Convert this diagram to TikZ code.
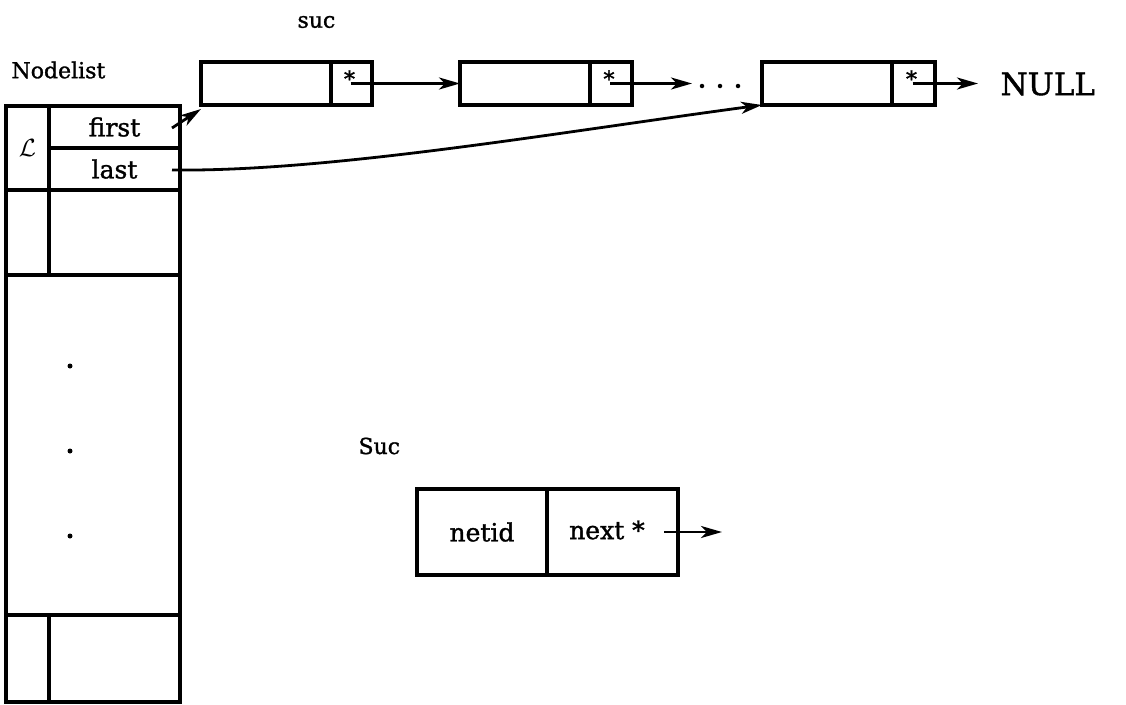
\documentclass[tikz,border=0pt]{standalone}
\usepackage{fontspec}
\setmainfont{DejaVu Serif}[FakeBold=1.3]
\usetikzlibrary{arrows.meta}
\begin{document}
\begin{tikzpicture}[x=1pt,y=-1pt,
  cell/.style={draw,line width=3.2pt,rectangle,inner sep=0pt,outer sep=0pt,anchor=north west},
  lbl/.style={font=\fontsize{25}{29}\selectfont},
  head/.style={font=\fontsize{22}{26}\selectfont},
  ptr/.style={line width=2.8pt,-{Stealth[length=21pt,width=12pt,inset=6pt]}}]
\useasboundingbox (0,0) rectangle (1126,704);

% Nodelist table
\node[head,anchor=west] (title) at (8,70) {Nodelist};
\node[cell,minimum width=43pt,minimum height=84pt,font=\fontsize{27}{30}\selectfont] (Lc) at (6,106) {$\mathcal{L}$};
\node[cell,minimum width=131pt,minimum height=42pt,lbl] (first) at (49,106) {first};
\node[cell,minimum width=131pt,minimum height=42pt,lbl] (last) at (49,148) {last};
\node[cell,minimum width=43pt,minimum height=85pt] (r2a) at (6,190) {};
\node[cell,minimum width=131pt,minimum height=85pt] (r2b) at (49,190) {};
\node[cell,minimum width=174pt,minimum height=340pt] (mid) at (6,275) {};
\node[cell,minimum width=43pt,minimum height=87pt] (r3a) at (6,615) {};
\node[cell,minimum width=131pt,minimum height=87pt] (r3b) at (49,615) {};
\foreach \y/\n in {366/d1,451/d2,536/d3}
  \node[circle,fill,inner sep=0pt,minimum size=5pt] (\n) at (70,\y) {};

% suc chain
\node[head,anchor=west] (suclbl) at (294,22) {suc};
\node[cell,minimum width=130pt,minimum height=43pt] (b1) at (201,62) {};
\node[cell,minimum width=41pt,minimum height=43pt] (b1p) at (331,62) {};
\node[cell,minimum width=130pt,minimum height=43pt] (b2) at (460,62) {};
\node[cell,minimum width=42pt,minimum height=43pt] (b2p) at (590,62) {};
\node[cell,minimum width=130pt,minimum height=43pt] (b3) at (762,62) {};
\node[cell,minimum width=43pt,minimum height=43pt] (b3p) at (892,62) {};
\foreach \b in {b1p,b2p,b3p}{
  \node[font=\fontsize{22}{24}\selectfont,inner sep=0pt] at ([xshift=-2pt,yshift=5pt]\b.center) {*};
  \coordinate (\b s) at ([xshift=-1pt]\b.center);
}
\foreach \x/\n in {702/e1,720/e2,738/e3}
  \node[circle,fill,inner sep=0pt,minimum size=4.5pt] (\n) at (\x,86) {};
\coordinate (d2end) at (692,83.5);
\coordinate (nullend) at (978,83.5);
\node[font=\fontsize{31}{34}\selectfont,anchor=west] (null) at (997,84) {NULL};

\draw[ptr] (b1ps) -- (b2.west |- b1ps);
\draw[ptr] (b2ps) -- (d2end);
\draw[ptr] (b3ps) -- (nullend);

\coordinate (fs) at (172,128);
\coordinate (ls) at (172,170);
\draw[ptr] (fs) -- ([yshift=-4pt]b1.south west);
\draw[ptr] (ls) .. controls (330,172) and (560,132) .. (b3.south west);

% Suc record
\node[head,anchor=west] (Suclbl) at (355,446) {Suc};
\node[cell,minimum width=130pt,minimum height=86pt,lbl] (netid) at (417,489) {netid};
\node[cell,minimum width=131pt,minimum height=86pt] (next) at (547,489) {};
\node[lbl,anchor=west,inner sep=0pt] (nexttxt) at (569,530) {next *};
\coordinate (nxs) at (664,532);
\coordinate (nxe) at (722,532);
\draw[ptr] (nxs) -- (nxe);
\end{tikzpicture}
\end{document}
